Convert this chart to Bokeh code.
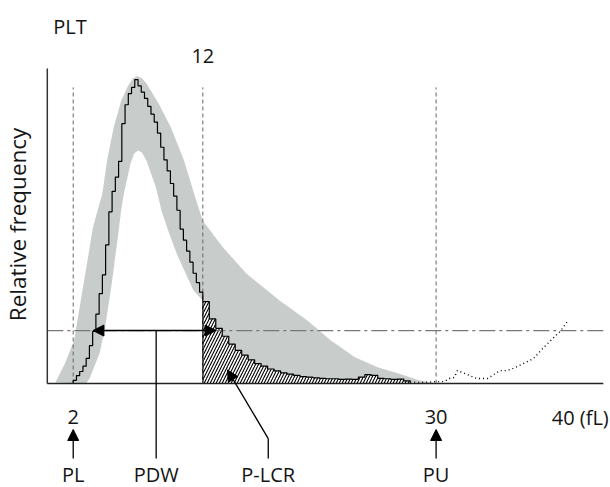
import numpy as np
from bokeh.plotting import figure
from bokeh.models import Range1d, Arrow, NormalHead
from bokeh.core.properties import value
from bokeh.embed import file_html
from bokeh.resources import INLINE

# ---------------- data (volume in fL, relative frequency in % of axis height) -------------
# histogram bins: 2-12 fL in 0.25 fL steps, 12-28 fL in 0.5 fL steps
bin_edges_fine = np.arange(2.0, 12.0, 0.25)
bin_edges_coarse = np.arange(12.0, 28.0, 0.5)
hist_fine = [1.0, 2.5, 3.8, 5.5, 8.0, 12.0, 16.5, 22.0, 28.5, 34.5,
             44.0, 54.5, 61.0, 65.5, 70.5, 82.5, 88.5, 92.0, 94.0, 96.5,
             94.5, 92.5, 90.5, 88.0, 85.5, 83.0, 79.5, 75.0, 71.0, 67.5,
             63.5, 59.5, 55.0, 49.0, 45.5, 42.0, 38.5, 35.0, 32.0, 29.0]
hist_coarse = [26.0, 20.5, 17.5, 15.0, 12.5, 10.5, 9.0, 7.5, 6.3, 5.5,
               4.6, 4.0, 3.4, 3.0, 2.6, 2.2, 2.0, 1.8, 1.6, 1.5,
               1.5, 1.3, 1.4, 1.3, 2.0, 2.8, 2.6, 1.6, 1.5, 1.3,
               1.4, 0.8]
hist_end = 28.0

# tail above PU drawn dotted
tail_x = [28.0, 28.67, 30.0, 30.63, 31.02, 31.41, 31.64, 32.19, 33.13, 33.99,
          34.93, 35.48, 35.94, 36.73, 37.51, 38.29, 39.08, 39.63, 40.18]
tail_y = [0.5, 0.3, 0.6, 0.6, 1.6, 1.9, 4.1, 3.2, 1.6, 1.6,
          4.1, 4.1, 4.8, 6.3, 7.9, 11.4, 14.6, 16.8, 20.0]

# reference range (grey band)
band_upper_x = [0.62, 1.35, 2.07, 2.58, 3.01, 3.52, 3.88, 4.25, 4.61, 5.12, 5.70,
                6.28, 6.60, 6.93, 7.30, 7.65, 8.59, 9.54, 10.55, 11.49, 12.0,
                13.56, 15.36, 17.95, 20.07, 21.86, 23.74, 25.54, 27.10, 28.67, 30.0]
band_upper_y = [0.3, 6.3, 13.7, 26.3, 36.8, 49.5, 54.9, 60.3, 70.8, 81.3, 89.8,
                94.9, 96.8, 97.6, 96.9, 95.2, 88.9, 81.3, 70.8, 58.1, 51.7,
                43.2, 34.9, 26.3, 20.0, 13.7, 8.3, 5.1, 3.2, 1.0, 0.0]
band_lower_x = [3.01, 3.30, 4.03, 4.46, 4.97, 5.48, 5.70, 5.91, 6.42, 6.70, 7.00,
                7.30, 7.65, 8.38, 8.81, 9.32, 10.04, 11.28, 12.0, 12.47, 13.25,
                14.35, 15.60, 17.48, 19.28, 21.6, 25.5, 30.0]
band_lower_y = [0.0, 1.9, 9.5, 17.8, 31.7, 47.6, 54.9, 60.3, 69.8, 73.0, 74.0,
                73.3, 70.8, 62.2, 54.9, 48.6, 40.6, 29.5, 26.3, 21.6, 16.2,
                10.8, 6.7, 3.5, 1.9, 1.3, 1.0, 0.0]

# discriminators / markers
pl_fl, plcr_fl, pu_fl, max_fl = 2, 12, 30, 40
level_20 = 16.8                 # level at which PDW is measured
pdw_left, pdw_right = 3.52, 13.02

# ---------------- figure ----------------
X0, X1 = -3.611, 43.457
Y0, Y1 = -33.02, 121.59
X_END = 42.9
p = figure(width=610, height=487, x_range=Range1d(X0, X1), y_range=Range1d(Y0, Y1),
           x_axis_type=None, y_axis_type=None, output_backend="svg",
           toolbar_location=None, min_border=0)
p.grid.visible = False
p.outline_line_color = None
p.background_fill_color = "white"

FONT = value("Open Sans")
TXT = "#141414"
FS = "20px"

# grey reference band
bx = band_upper_x + band_lower_x[::-1]
by = band_upper_y + band_lower_y[::-1]
p.patch(bx, by, fill_color="#c8cdcc", line_color=None)

# staircase histogram
edges = list(bin_edges_fine) + list(bin_edges_coarse) + [hist_end]
vals = hist_fine + hist_coarse
sx, sy = [edges[0]], [0.0]
for i, v in enumerate(vals):
    sx += [edges[i], edges[i + 1]]
    sy += [v, v]
sx.append(edges[-1]); sy.append(0.0)

# hatched P-LCR region (>= 12 fL)
hx, hy = [plcr_fl], [0.0]
for i, v in enumerate(vals):
    if edges[i] >= plcr_fl:
        hx += [edges[i], edges[i + 1]]
        hy += [v, v]
hx.append(hist_end); hy.append(0.0)
p.patch(hx, hy, fill_color="white", line_color=None,
        hatch_pattern="/", hatch_color="black", hatch_scale=6, hatch_weight=1.1)
p.line([plcr_fl, plcr_fl], [0, hist_coarse[0]], line_color="black", line_width=1.4)

# dashed discriminator lines
for xv in (pl_fl, plcr_fl, pu_fl):
    p.line([xv, xv], [0, 94], line_color="#666666", line_width=1, line_dash="4 3")

# dash-dot 20% level
p.line([0, X_END], [level_20, level_20], line_color="#777777", line_width=1.3,
       line_dash="16 4 3 4")

p.line(sx, sy, line_color="black", line_width=1.2)
p.line(tail_x, tail_y, line_color="black", line_width=1.4, line_dash="1 3")

# axes lines
p.line([0, 0], [0, 100], line_color="#333333", line_width=1.5)
p.line([0, X_END], [0, 0], line_color="#222222", line_width=1.5)

# PDW double arrow
head = dict(size=11, fill_color="black", line_color="black")
p.add_layout(Arrow(start=NormalHead(**head), end=NormalHead(**head),
                   x_start=pdw_left, y_start=level_20, x_end=pdw_right, y_end=level_20,
                   line_width=1.5, line_color="black"))
pdw_x = 8.4
low_end = -23.8
p.line([pdw_x, pdw_x], [level_20, low_end], line_color="black", line_width=1.3)

# P-LCR pointer
knee_x = 17.05
p.line([knee_x, knee_x], [-17.5, low_end], line_color="black", line_width=1.3)
p.add_layout(Arrow(end=NormalHead(**head), x_start=knee_x, y_start=-17.5,
                   x_end=13.9, y_end=4.3, line_width=1.3, line_color="black"))

# PL / PU arrows
for xv in (pl_fl, pu_fl):
    p.add_layout(Arrow(end=NormalHead(**head), x_start=xv, y_start=low_end,
                       x_end=xv, y_end=-14.6, line_width=1.3, line_color="black"))

# texts
def txt(x, y, s, align="center", baseline="alphabetic", angle=0.0, x_offset=0, fs=FS):
    p.text(x=[x], y=[y], text=[s], text_font=FONT, text_font_size=fs,
           text_color=TXT, text_align=align, text_baseline=baseline,
           angle=angle, x_offset=x_offset)

txt(1.75, 113.2, "PLT")
txt(plcr_fl, 104.0, str(plcr_fl))
txt(pl_fl, -10.7, str(pl_fl))
txt(pu_fl, -10.7, str(pu_fl))
txt(max_fl, -10.7, "40 (fL)", align="left", x_offset=-14)
bottom_y = -28.9
txt(pl_fl, bottom_y, "PL")
txt(pdw_x, bottom_y, "PDW")
txt(knee_x, bottom_y, "P-LCR")
txt(pu_fl, bottom_y, "PU")
txt(-2.30, 50.5, "Relative frequency", baseline="middle", angle=np.pi / 2, fs="22.5px")

open("out.html", "w").write(file_html(p, INLINE))
